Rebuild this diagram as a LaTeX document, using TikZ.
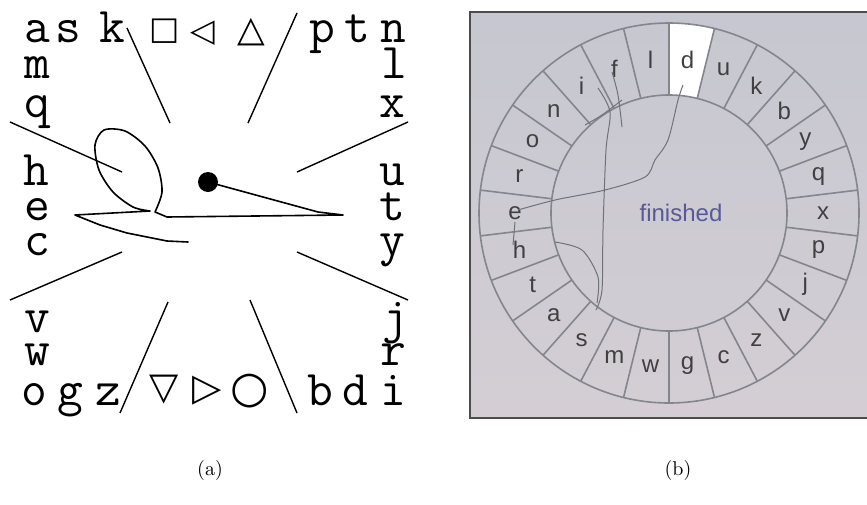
\documentclass[tikz,border=0pt]{standalone}
\usepackage{fontspec}
\newfontfamily\symfont{DejaVu Sans}
\newfontfamily\uifont{Liberation Sans}
\usetikzlibrary{positioning,calc}
\definecolor{PanelTop}{RGB}{198,199,208}
\definecolor{PanelLow}{RGB}{212,206,212}
\definecolor{RingLine}{RGB}{132,134,142}
\definecolor{DoneBlue}{RGB}{88,90,152}
\definecolor{TraceGray}{RGB}{112,114,122}

\begin{document}
\begin{tikzpicture}[x=0.5pt, y=-0.5pt,
        keych/.style={font=\ttfamily\fontsize{25}{25}\selectfont, inner sep=0pt, anchor=base},
        symch/.style={font=\symfont\fontsize{16}{16}\selectfont, inner sep=0pt},
        spoke/.style={line width=0.7pt},
        pen/.style={line width=0.8pt, line join=round, line cap=round},
        ringline/.style={draw=RingLine, line width=0.8pt},
        ringch/.style={font=\uifont\fontsize{12}{12}\selectfont, text=black!75, inner sep=0pt},
        trace/.style={draw=TraceGray, line width=0.5pt},
        captext/.style={font=\fontsize{10}{12}\selectfont},
      ]
      \useasboundingbox (0,0) rectangle (867,504);

      % (a) letters round the edge
      \node[keych] (ka) at (37,42) {a};
      \node[keych] (ks) at (68,42) {s};
      \node[keych] (kk) at (112,42) {k};
      \node[symch] (ksq) at (165,31) {□};
      \node[symch] (klt) at (203,33) {◁};
      \node[symch, font=\symfont\fontsize{18}{18}\selectfont] (kup) at (251,32) {△};
      \node[keych] (kp) at (322,42) {p};
      \node[keych] (kt) at (357,42) {t};
      \node[keych] (kn) at (393,42) {n};
      \node[keych] (km) at (37,78) {m};
      \node[keych] (kq) at (37,117) {q};
      \node[keych] (kh) at (36,185) {h};
      \node[keych] (ke) at (37,220) {e};
      \node[keych] (kc) at (37,255) {c};
      \node[keych] (kv) at (37,332) {v};
      \node[keych] (kw) at (37,365) {w};
      \node[keych] (ko) at (34,405) {o};
      \node[keych] (kg) at (70,405) {g};
      \node[keych] (kz) at (108,405) {z};
      \node[symch, font=\symfont\fontsize{19}{19}\selectfont] (kdn) at (164,390) {▽};
      \node[symch, font=\symfont\fontsize{19}{19}\selectfont] (krt) at (207,391) {▷};
      \node[symch, font=\symfont\fontsize{22}{22}\selectfont] (kci) at (250,391) {○};
      \node[keych] (kb) at (320,405) {b};
      \node[keych] (kd) at (355,405) {d};
      \node[keych] (ki) at (393,405) {i};
      \node[keych] (kl) at (394,78) {l};
      \node[keych] (kx) at (392,117) {x};
      \node[keych] (ku) at (392,185) {u};
      \node[keych] (kt2) at (392,220) {t};
      \node[keych] (ky) at (392,255) {y};
      \node[keych] (kj) at (395,332) {j};
      \node[keych] (kr) at (393,365) {r};

      % (a) spokes
      \draw[spoke] (127,28) -- (170,123);
      \draw[spoke] (297,13) -- (248,123);
      \draw[spoke] (10,122) -- (122,172);
      \draw[spoke] (408,122) -- (297,172);
      \draw[spoke] (122,252) -- (10,300);
      \draw[spoke] (297,252) -- (408,300);
      \draw[spoke] (168,302) -- (120,413);
      \draw[spoke] (250,300) -- (297,413);

      % (a) pen stroke
      \fill (208,182) circle[radius=10];
      \draw[pen] (208,182) -- (318,212) -- (343,215) -- (167,217) -- (155,212)
        plot[smooth] coordinates {(155,212) (162,192) (158,168) (145,146) (125,131)
          (104,130) (95,145) (99,170) (113,192) (133,207) (150,211)}
        -- (75,215) -- (100,225) -- (127,233) -- (167,241) -- (188,242);

      % (b) panel
      \shade[top color=PanelTop, bottom color=PanelLow] (470,12) rectangle (867,418);
      \draw[line width=1.2pt, black!70] (867,12) -- (470,12) -- (470,418) -- (867,418);

      \begin{scope}[shift={(669,213)}, y=0.5pt]
        \fill[white] (90:118) -- (90:190) arc[start angle=90, end angle={90-360/26}, radius=190]
          -- ({90-360/26}:118) arc[start angle={90-360/26}, end angle=90, radius=118] -- cycle;
        \draw[ringline] (0,0) circle[radius=118];
        \draw[ringline] (0,0) circle[radius=190];
        \foreach \k in {0,...,25}
          \draw[ringline] ({90-\k*360/26}:118) -- ({90-\k*360/26}:190);
        \foreach \ltr [count=\i from 0] in {d,u,k,b,y,q,x,p,j,v,z,c,g,w,m,s,a,t,h,e,r,o,n,i,f,l}
          \node[ringch] (r-\ltr) at ({90-(\i+0.5)*360/26}:154) {\ltr};
      \end{scope}
      \node[font=\uifont\fontsize{12}{12}\selectfont, text=DoneBlue] (done) at (681,213) {finished};

      % (b) traced path
      \draw[trace] plot[smooth] coordinates {(683,85) (678,100) (668,140) (655,160) (645,177)
        (605,190) (555,200) (518,210)};
      \draw[trace] plot[smooth] coordinates {(612,72) (618,95) (622,127)};
      \draw[trace] plot[smooth] coordinates {(598,88) (610,112) (606,150) (603,230) (602,290) (596,310)};
      \draw[trace] plot[smooth] coordinates {(585,125) (602,115) (622,100)};
      \draw[trace] plot[smooth] coordinates {(515,222) (513,245)};
      \draw[trace] plot[smooth] coordinates {(555,242) (582,250) (598,277) (597,303)};

      % captions
      \node[captext] (capa) at (210,470) {(a)};
      \node[captext] (capb) at (678,470) {(b)};
    \end{tikzpicture}
\end{document}
